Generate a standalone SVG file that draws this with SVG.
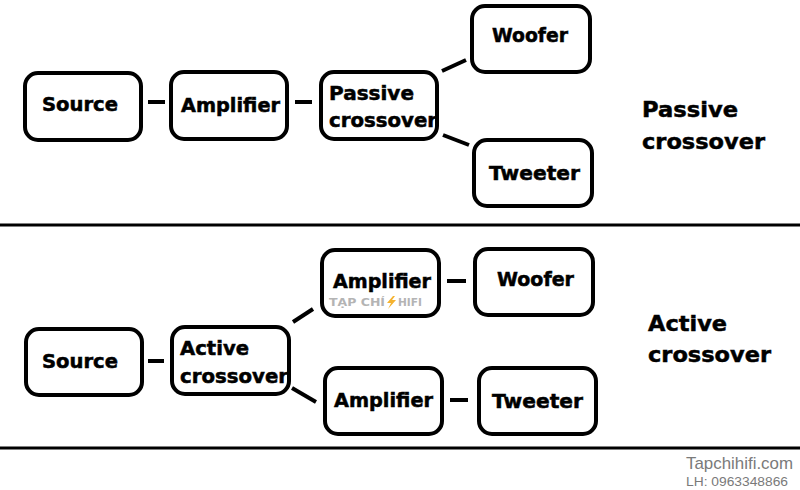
<svg xmlns="http://www.w3.org/2000/svg" width="800" height="490" viewBox="0 0 800 490">
<style>
.box{fill:#fff;stroke:#000;stroke-width:4}
.lbl{font-family:"DejaVu Sans",Verdana,sans-serif;font-weight:bold;font-size:19px;fill:#000;stroke:#000;stroke-width:0.5}
.big{font-family:"DejaVu Sans",Verdana,sans-serif;font-weight:bold;font-size:22px;fill:#000;stroke:#000;stroke-width:0.5}
.con{stroke:#000;stroke-width:4;stroke-linecap:butt;fill:none}
.rule{stroke:#000;stroke-width:3}
.wm{font-family:"DejaVu Sans Condensed","DejaVu Sans",sans-serif;font-weight:bold;font-size:11px;fill:#b4b4b4}
.site{font-family:"Liberation Sans",Arial,sans-serif;fill:#7a7a7a}
</style>
<rect width="800" height="490" fill="#fff"/>
<g id="rules">
<line class="rule" x1="0" y1="225" x2="800" y2="225"/>
<line class="rule" x1="0" y1="448" x2="800" y2="448"/>
</g>
<g id="connectors">
<line class="con" x1="148" y1="102" x2="165" y2="102"/>
<line class="con" x1="295" y1="102" x2="312" y2="102"/>
<line class="con" x1="442" y1="71" x2="466" y2="60"/>
<line class="con" x1="443" y1="135" x2="469" y2="145"/>
<line class="con" x1="148" y1="361" x2="164" y2="361"/>
<line class="con" x1="293" y1="322" x2="313" y2="309"/>
<line class="con" x1="292" y1="388" x2="316" y2="402"/>
<line class="con" x1="447" y1="281" x2="466" y2="281"/>
<line class="con" x1="450" y1="400" x2="468" y2="400"/>
</g>
<g id="p-source">
<rect class="box" x="25" y="73" width="116" height="67" rx="13"/>
<text class="lbl" x="42" y="111" textLength="76" lengthAdjust="spacingAndGlyphs">Source</text>
</g>
<g id="p-amplifier">
<rect class="box" x="171" y="72" width="116" height="67" rx="13"/>
<text class="lbl" x="181" y="112" textLength="99" lengthAdjust="spacingAndGlyphs">Amplifier</text>
</g>
<g id="p-crossover">
<rect class="box" x="321" y="72" width="116" height="67" rx="13"/>
<text class="lbl" x="329" y="100" textLength="85" lengthAdjust="spacingAndGlyphs">Passive</text>
<text class="lbl" x="329" y="127" textLength="108" lengthAdjust="spacingAndGlyphs">crossover</text>
</g>
<g id="p-woofer">
<rect class="box" x="472" y="6" width="118" height="66" rx="13"/>
<text class="lbl" x="492" y="42" textLength="76" lengthAdjust="spacingAndGlyphs">Woofer</text>
</g>
<g id="p-tweeter">
<rect class="box" x="474" y="140" width="118" height="66" rx="13"/>
<text class="lbl" x="489" y="180" textLength="91" lengthAdjust="spacingAndGlyphs">Tweeter</text>
</g>
<g id="p-title">
<text class="big" x="642" y="117" textLength="96" lengthAdjust="spacingAndGlyphs">Passive</text>
<text class="big" x="642" y="149" textLength="123" lengthAdjust="spacingAndGlyphs">crossover</text>
</g>
<g id="a-source">
<rect class="box" x="26" y="329" width="116" height="66" rx="13"/>
<text class="lbl" x="42" y="368" textLength="76" lengthAdjust="spacingAndGlyphs">Source</text>
</g>
<g id="a-crossover">
<rect class="box" x="172" y="327" width="117" height="67" rx="13"/>
<text class="lbl" x="180" y="355" textLength="69" lengthAdjust="spacingAndGlyphs">Active</text>
<text class="lbl" x="180" y="383" textLength="108" lengthAdjust="spacingAndGlyphs">crossover</text>
</g>
<g id="a-amp1">
<rect class="box" x="322" y="250" width="117" height="66" rx="13"/>
<text class="lbl" x="333" y="288" textLength="98" lengthAdjust="spacingAndGlyphs">Amplifier</text>
<text class="wm" x="329" y="306" textLength="56" lengthAdjust="spacingAndGlyphs">TẠP CHÍ</text>
<polygon points="393,296 387,303 391,303 388,309 396,300 392,300 395,296" fill="#f5b22e"/>
<text class="wm" x="398" y="306" textLength="24" lengthAdjust="spacingAndGlyphs">HIFI</text>
</g>
<g id="a-amp2">
<rect class="box" x="325" y="368" width="117" height="66" rx="13"/>
<text class="lbl" x="334" y="407" textLength="99" lengthAdjust="spacingAndGlyphs">Amplifier</text>
</g>
<g id="a-woofer">
<rect class="box" x="475" y="249" width="118" height="66" rx="13"/>
<text class="lbl" x="497" y="286" textLength="77" lengthAdjust="spacingAndGlyphs">Woofer</text>
</g>
<g id="a-tweeter">
<rect class="box" x="479" y="368" width="117" height="66" rx="13"/>
<text class="lbl" x="492" y="408" textLength="91" lengthAdjust="spacingAndGlyphs">Tweeter</text>
</g>
<g id="a-title">
<text class="big" x="648" y="331" textLength="79" lengthAdjust="spacingAndGlyphs">Active</text>
<text class="big" x="648" y="362" textLength="123" lengthAdjust="spacingAndGlyphs">crossover</text>
</g>
<g id="credit">
<text class="site" x="686" y="469" font-size="17" textLength="107" lengthAdjust="spacingAndGlyphs">Tapchihifi.com</text>
<text class="site" x="686" y="486" font-size="13.5" fill="#8a8a8a" textLength="102" lengthAdjust="spacingAndGlyphs">LH: 0963348866</text>
</g>
</svg>
